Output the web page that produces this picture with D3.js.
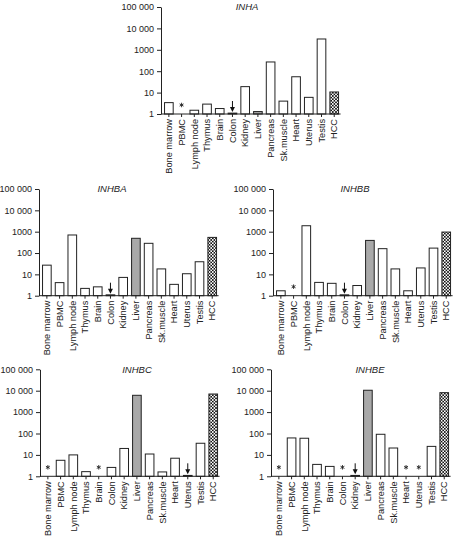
<!DOCTYPE html>
<html><head><meta charset="utf-8">
<script src="https://cdn.jsdelivr.net/npm/d3@7"></script>
<style>
body{margin:0;background:#fff;}
svg{display:block;font-family:"Liberation Sans",Arial,sans-serif;}
</style></head>
<body>
<svg id="chart" width="453" height="538"></svg>
<script>
const categories = ["Bone marrow","PBMC","Lymph node","Thymus","Brain","Colon","Kidney","Liver","Pancreas","Sk.muscle","Heart","Uterus","Testis","HCC"];
const tickValues = [1,10,100,1000,10000,100000];
const tickLabels = ["1","10","100","1000","10 000","100 000"];

// null = not detected (asterisk)
const inhaValues  = [3.4, null, 1.5, 2.9, 1.8, 1.1, 19, 1.3, 270, 4, 55, 6, 3200, 10.7];
const inhbaValues = [27, 4.1, 700, 2.2, 2.6, 1.1, 7.2, 490, 285, 18, 3.4, 10.7, 39, 540];
const inhbbValues = [1.7, null, 1900, 4.2, 3.8, 1.1, 3.0, 390, 160, 18, 1.7, 20, 170, 960];
const inhbcValues = [null, 5.6, 10, 1.65, null, 2.6, 20, 6100, 11, 1.6, 7, 1.1, 35, 7000];
const inhbeValues = [null, 62, 60, 3.6, 2.9, null, 1.1, 10500, 92, 21, null, null, 25, 8100];

const inhaArrows  = ["Colon"];
const inhbaArrows = ["Colon"];
const inhbbArrows = ["Colon"];
const inhbcArrows = ["Uterus"];
const inhbeArrows = ["Kidney"];

const genes = ["INHA","INHBA","INHBB","INHBC","INHBE"];
const seriesValues = [inhaValues, inhbaValues, inhbbValues, inhbcValues, inhbeValues];
const seriesArrows = [inhaArrows, inhbaArrows, inhbbArrows, inhbcArrows, inhbeArrows];

// layout (positions only)
const layout = [
  {ax:161, top:7,     bottom:114,   titleX:247},
  {ax:39,  top:189,   bottom:295.7, titleX:112},
  {ax:273, top:189,   bottom:295.7, titleX:355},
  {ax:40,  top:369.3, bottom:476.3, titleX:137},
  {ax:271, top:369.3, bottom:476.3, titleX:370}
];

const svg = d3.select("#chart");
const defs = svg.append("defs");
const pat = defs.append("pattern").attr("id","hatch").attr("patternUnits","userSpaceOnUse")
  .attr("width",3.2).attr("height",3.2);
pat.append("rect").attr("width",3.2).attr("height",3.2).attr("fill","#fff");
pat.append("path").attr("d","M0,0L3.2,3.2M3.2,0L0,3.2").attr("stroke","#111").attr("stroke-width",0.8);

const textColor = "#222";
const fontFam = '"Liberation Sans",Arial,sans-serif';
const asterisk = d3.symbol().type(d3.symbolAsterisk).size(14);

genes.forEach((gene, gi) => {
  const L = layout[gi];
  const vals = seriesValues[gi];
  const arrows = seriesArrows[gi];
  const g = svg.append("g");
  const y = d3.scaleLog().domain([1,100000]).range([L.bottom, L.top]);
  const x = d3.scaleBand().domain(categories).range([L.ax+1.5, L.ax+1.5+14*12.72]).paddingInner(0.32).paddingOuter(0.16);

  // y axis
  const ya = g.append("g").attr("transform",`translate(${L.ax},0)`)
    .call(d3.axisLeft(y).tickValues(tickValues).tickFormat((d,i)=>tickLabels[i]).tickSize(4).tickSizeOuter(0).tickPadding(3));
  ya.attr("font-family",fontFam);
  ya.selectAll("text").attr("font-size",9).attr("fill",textColor);
  ya.selectAll("line,path").attr("stroke","#222");

  // bars
  const data = categories.map((c,i)=>({c, v:vals[i]}));
  g.selectAll("rect.bar").data(data.filter(d=>d.v!==null)).enter().append("rect")
    .attr("x",d=>x(d.c)).attr("width",x.bandwidth())
    .attr("y",d=>y(d.v)).attr("height",d=>y(1)-y(d.v))
    .attr("fill",d=>d.c==="Liver" ? "#a9a9a9" : d.c==="HCC" ? "url(#hatch)" : "#fff")
    .attr("stroke","#222").attr("stroke-width",1);

  // asterisks (not detected)
  g.selectAll("path.ast").data(data.filter(d=>d.v===null)).enter().append("path")
    .attr("transform",d=>`translate(${x(d.c)+x.bandwidth()/2},${y(1)-9})`)
    .attr("d",asterisk).attr("fill","none").attr("stroke","#222").attr("stroke-width",0.9);

  // arrows
  arrows.forEach(c => {
    const cx = x(c)+x.bandwidth()/2, yb = y(1)-2;
    g.append("line").attr("x1",cx).attr("x2",cx).attr("y1",yb-11).attr("y2",yb-4)
      .attr("stroke","#111").attr("stroke-width",1);
    g.append("path").attr("d",`M${cx-2.5},${yb-5}L${cx+2.5},${yb-5}L${cx},${yb}Z`).attr("fill","#111");
  });

  // x axis
  const xa = g.append("g").attr("transform",`translate(0,${L.bottom})`)
    .call(d3.axisBottom(x).tickSize(3).tickSizeOuter(0));
  xa.attr("font-family",fontFam);
  xa.select(".domain").remove();
  xa.selectAll("line").attr("stroke","#222");
  g.append("line").attr("x1",L.ax).attr("x2",x.range()[1]).attr("y1",L.bottom).attr("y2",L.bottom).attr("stroke","#222");
  xa.selectAll("text")
    .attr("transform","rotate(-90)")
    .attr("text-anchor","end")
    .attr("x",-5).attr("y",0).attr("dy","0.35em")
    .attr("font-size",9.2).attr("fill",textColor);

  // title
  g.append("text").attr("x",L.titleX).attr("y",L.top).attr("dy","0.35em")
    .attr("text-anchor","middle").attr("font-style","italic").attr("font-size",9.5)
    .attr("font-family",fontFam).attr("fill",textColor).text(gene);
});
</script>
</body></html>
